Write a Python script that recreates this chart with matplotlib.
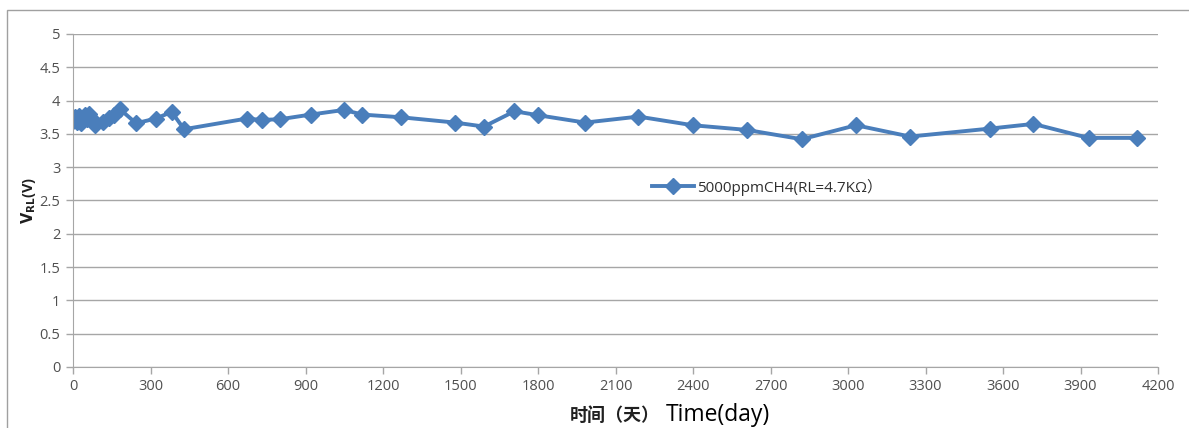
import numpy as np
import matplotlib.pyplot as plt
from matplotlib.patches import Rectangle

plt.rcParams['font.family'] = ['Open Sans', 'Noto Sans CJK SC', 'DejaVu Sans']

#%% datos
dias = [0, 8, 15, 22, 30, 38, 45, 55, 62, 70, 85, 117, 140, 160, 182, 244, 320, 382, 430,
        672, 730, 801, 920, 1049, 1120, 1269, 1479, 1591, 1709, 1801, 1982, 2189, 2399,
        2608, 2821, 3031, 3240, 3550, 3718, 3931, 4118]
voltaje = [3.7, 3.75, 3.68, 3.77, 3.66, 3.74, 3.79, 3.72, 3.8, 3.74, 3.63, 3.68, 3.74, 3.79, 3.87,
           3.66, 3.73, 3.83, 3.57,
           3.73, 3.71, 3.72, 3.79, 3.86, 3.79, 3.75, 3.67, 3.61, 3.84, 3.78, 3.67, 3.76, 3.63,
           3.56, 3.42, 3.63, 3.46, 3.58, 3.65, 3.44, 3.44]
serie = '5000ppmCH4(RL=4.7KΩ）'
xticks = np.arange(0, 4201, 300)
yticks = np.arange(0, 5.01, 0.5)
ylabels = ['0', '0.5', '1', '1.5', '2', '2.5', '3', '3.5', '4', '4.5', '5']

#%% grafica
fig = plt.figure(figsize=(11.89, 4.28), dpi=100)
ax = fig.add_axes([73/1189, 1-367/428, (1158-73)/1189, (367-34)/428])

azul = '#4A7EBB'
gris = '#A6A6A6'
ax.plot(dias, voltaje, color=azul, lw=2.8, marker='D', ms=8, mec=azul, mfc=azul, label=serie)

ax.set_xlim(0, 4200)
ax.set_ylim(0, 5)
ax.set_xticks(xticks)
ax.set_yticks(yticks)
ax.set_yticklabels(ylabels)
ax.tick_params(colors=gris, labelcolor='#505050', labelsize=10.5, length=5, width=1, pad=4)
ax.grid(axis='y', color=gris, lw=1)
ax.set_axisbelow(True)
for s in ['top', 'right']:
    ax.spines[s].set_visible(False)
for s in ['left', 'bottom']:
    ax.spines[s].set_color(gris)

ax.set_ylabel(r'$\mathbf{V_{RL}}$(V)', fontsize=10.5, fontweight='bold', labelpad=1, color='#202020')

leg = ax.legend(loc='center left', bbox_to_anchor=(0.534, 0.54), frameon=False, fontsize=11,
                handlelength=2.7, handletextpad=0.2, borderpad=0, borderaxespad=0)
for t in leg.get_texts():
    t.set_color('#303030')

fig.text(570/1189, 0.016, '时间（天）', fontsize=13, fontweight='bold', ha='left', va='baseline',
         family=['Noto Sans CJK SC', 'DejaVu Sans'], color='#202020')
fig.text(666/1189, 0.016, 'Time(day)', fontsize=16.5, ha='left', va='baseline', color='black')

# marco exterior
fig.patches.append(Rectangle((7/1189, -0.01), 1.0, 1-10/428 + 0.01, transform=fig.transFigure,
                             fill=False, ec='#A0A0A0', lw=1))

fig.savefig('out.png', dpi=100)
